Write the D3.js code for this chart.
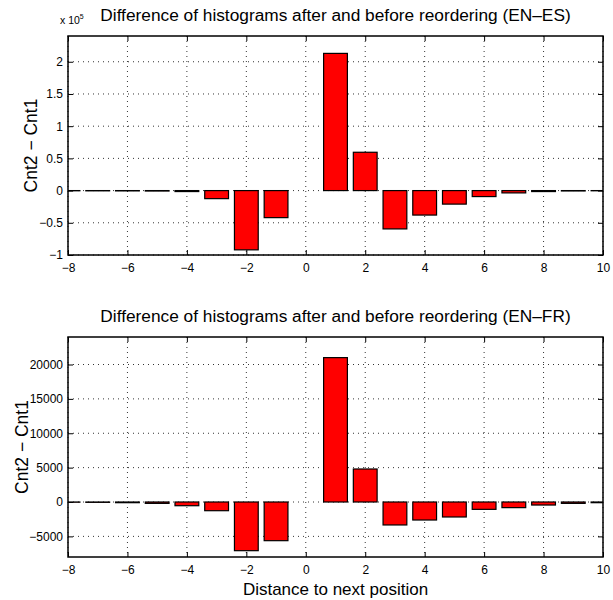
<!DOCTYPE html>
<html>
<head>
<meta charset="utf-8">
<script src="https://cdn.jsdelivr.net/npm/d3@7"></script>
<style>
body { margin: 0; background: #fff; }
text { font-family: "Liberation Sans", Arial, sans-serif; }
</style>
</head>
<body>
<div id="chart"></div>
<script>
// distances (bar positions) and values
var positions = [-8, -7, -6, -5, -4, -3, -2, -1, 1, 2, 3, 4, 5, 6, 7, 8, 9, 10];
var esValues = [-300, -400, -500, -700, -1500, -12500, -92000, -42000,
  213000, 59500, -59500, -38000, -21000, -9300, -3600, -1500, -600, -300];
var frValues = [-30, -50, -100, -200, -540, -1265, -7080, -5625,
  21000, 4800, -3340, -2620, -2180, -1070, -820, -440, -200, -100];

var xTicks = [-8, -6, -4, -2, 0, 2, 4, 6, 8, 10];
var esTicks = [-1, -0.5, 0, 0.5, 1, 1.5, 2];
var frTicks = [-5000, 0, 5000, 10000, 15000, 20000];

var W = 613, H = 600;
var left = 68, right = 603;

var svg = d3.select("#chart")
.append("svg")
.attr("width", W)
.attr("height", H);

var x = d3.scaleLinear()
.domain([-8, 10])
.range([left, right]);

function fmt(v) {
  return String(v).replace("-", "\u2212");
}

function drawPanel(id, top, bottom, yDomain, values, ticks, scaleDiv, title, xlab, labX) {
  var y = d3.scaleLinear()
  .domain(yDomain)
  .range([bottom, top]);
  var yv = function(v) { return y(v / scaleDiv); };

  var g = svg.append("g");

  // clip for the bars
  g.append("clipPath")
  .attr("id", id)
  .append("rect")
  .attr("x", left)
  .attr("y", top)
  .attr("width", right - left)
  .attr("height", bottom - top);

  // dotted grid
  g.append("g")
  .selectAll("line.gx")
  .data(xTicks)
  .enter()
  .append("line")
  .attr("x1", function(d) { return x(d); })
  .attr("x2", function(d) { return x(d); })
  .attr("y1", top)
  .attr("y2", bottom)
  .attr("stroke", "#000")
  .attr("stroke-width", 0.8)
  .attr("stroke-dasharray", "1,4");

  g.append("g")
  .selectAll("line.gy")
  .data(ticks)
  .enter()
  .append("line")
  .attr("x1", left)
  .attr("x2", right)
  .attr("y1", function(d) { return y(d); })
  .attr("y2", function(d) { return y(d); })
  .attr("stroke", "#000")
  .attr("stroke-width", 0.8)
  .attr("stroke-dasharray", "1,4");

  // bars
  var bw = x(0.4) - x(-0.4);
  g.append("g")
  .attr("clip-path", "url(#" + id + ")")
  .selectAll("rect")
  .data(values)
  .enter()
  .append("rect")
  .attr("x", function(d, i) { return x(positions[i]) - bw / 2; })
  .attr("width", bw)
  .attr("y", function(d) { return Math.min(yv(d), y(0)); })
  .attr("height", function(d) { return Math.abs(yv(d) - y(0)); })
  .attr("fill", "#ff0000")
  .attr("stroke", "#000")
  .attr("stroke-width", 1.2);

  // axes with inward ticks
  g.append("g")
  .attr("transform", "translate(0," + bottom + ")")
  .call(d3.axisBottom(x).tickValues(xTicks).tickSize(-5).tickPadding(8).tickFormat(fmt))
  .call(function(a) { a.select(".domain").remove(); })
  .selectAll("text")
  .attr("font-size", "12px")
  .attr("font-family", "Liberation Sans, Arial, sans-serif");

  g.append("g")
  .attr("transform", "translate(0," + top + ")")
  .call(d3.axisTop(x).tickValues(xTicks).tickSize(-5).tickFormat(""))
  .call(function(a) { a.select(".domain").remove(); });

  g.append("g")
  .attr("transform", "translate(" + left + ",0)")
  .call(d3.axisLeft(y).tickValues(ticks).tickSize(-5).tickPadding(5).tickFormat(fmt))
  .call(function(a) { a.select(".domain").remove(); })
  .selectAll("text")
  .attr("font-size", "12px")
  .attr("font-family", "Liberation Sans, Arial, sans-serif");

  g.append("g")
  .attr("transform", "translate(" + right + ",0)")
  .call(d3.axisRight(y).tickValues(ticks).tickSize(-5).tickFormat(""))
  .call(function(a) { a.select(".domain").remove(); });

  // box
  g.append("rect")
  .attr("x", left)
  .attr("y", top)
  .attr("width", right - left)
  .attr("height", bottom - top)
  .attr("fill", "none")
  .attr("stroke", "#000")
  .attr("stroke-width", 1.5);

  // title
  g.append("text")
  .attr("x", (left + right) / 2)
  .attr("y", top - 15)
  .attr("text-anchor", "middle")
  .attr("font-size", "17.3px")
  .text(title);

  // y label
  g.append("text")
  .attr("transform", "translate(" + labX + "," + ((top + bottom) / 2) + ") rotate(-90)")
  .attr("text-anchor", "middle")
  .attr("font-size", "17.5px")
  .text("Cnt2 \u2212 Cnt1");

  if (xlab) {
    g.append("text")
    .attr("x", (left + right) / 2)
    .attr("y", bottom + 38)
    .attr("text-anchor", "middle")
    .attr("font-size", "17px")
    .text(xlab);
  }
  return g;
}

var g1 = drawPanel("clipA", 36, 255, [-1, 2.4], esValues, esTicks, 1e5,
  "Difference of histograms after and before reordering (EN\u2013ES)", null, 37);

// exponent label
var ex = g1.append("text")
.attr("x", 60)
.attr("y", 24)
.attr("font-size", "10.5px");
ex.append("tspan").text("x 10");
ex.append("tspan").attr("dy", -5).attr("font-size", "7px").text("5");

drawPanel("clipB", 337, 557, [-8000, 24000], frValues, frTicks, 1,
  "Difference of histograms after and before reordering (EN\u2013FR)",
  "Distance to next position", 28);
</script>
</body>
</html>
